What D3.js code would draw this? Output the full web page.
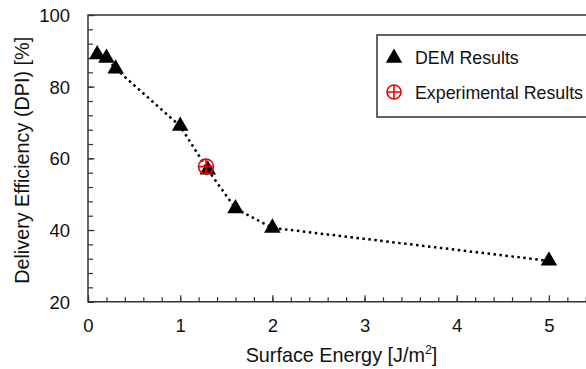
<!DOCTYPE html>
<html lang="en">
	<head>
		<meta charset="utf-8">
		<title>Delivery Efficiency vs Surface Energy</title>
		<script src="https://cdnjs.cloudflare.com/ajax/libs/d3/7.1.1/d3.min.js"></script>
<style>
	body { margin: 0; background: #fff; }
	svg { display: block; font-family: "Liberation Sans", Arial, sans-serif; }
</style>
</head>

<body>
	<div id="chart"></div>

<script>

// DEM simulation results
const demEnergy = [0.1, 0.2, 0.3, 1.0, 1.3, 1.6, 2.0, 5.0];
const demEfficiency = [89.0, 88.0, 85.0, 69.0, 56.8, 46.0, 40.6, 31.4];

// experimental measurement
const expEnergy = [1.28];
const expEfficiency = [57.7];

const xTickValues = [0, 1, 2, 3, 4, 5];
const yTickValues = [20, 40, 60, 80, 100];

const legendLabels = ["DEM Results", "Experimental Results"];

// define svg
const width = 586;
const height = 369;
const marginLeft = 88;
const marginTop = 15;
const plotRight = 595;
const plotBottom = 301.7;

const svg = d3.select("#chart")
		.append("svg")
		.attr("width", width)
		.attr("height", height);

const x = d3.scaleLinear()
		.domain([0, 5.5])
		.range([marginLeft, plotRight]);

const y = d3.scaleLinear()
		.domain([20, 100])
		.range([plotBottom, marginTop]);

const axisColor = "#333";

// minor ticks (inside)
svg.append("g")
		.attr("transform", `translate(0,${plotBottom})`)
		.call(d3.axisTop(x).tickValues(d3.range(0, 5.51, 0.2)).tickSize(4.5).tickFormat(""))
		.call(g => g.select(".domain").remove())
		.selectAll("line").attr("stroke", axisColor).attr("stroke-width", 1.2);

svg.append("g")
		.attr("transform", `translate(${marginLeft},0)`)
		.call(d3.axisRight(y).tickValues(d3.range(20, 100.1, 4)).tickSize(5).tickFormat(""))
		.call(g => g.select(".domain").remove())
		.selectAll("line").attr("stroke", axisColor).attr("stroke-width", 1.2);

// x-axis with major ticks
const xAxis = d3.axisTop(x)
		.tickValues(xTickValues)
		.tickSize(6.5)
		.tickFormat(d3.format("d"));

svg.append("g")
		.attr("class", "x-axis")
		.attr("transform", `translate(0,${plotBottom})`)
		.call(xAxis)
		.call(g => g.select(".domain").remove())
		.call(g => g.selectAll("line").attr("stroke", axisColor).attr("stroke-width", 1.2))
		.call(g => g.selectAll("text")
				.attr("y", 30.5)
				.attr("dy", 0)
				.attr("fill", "#111")
				.attr("font-size", 18.5));

const yAxis = d3.axisRight(y)
		.tickValues(yTickValues)
		.tickSize(6.5)
		.tickFormat(d3.format("d"));

svg.append("g")
		.attr("class", "y-axis")
		.attr("transform", `translate(${marginLeft},0)`)
		.call(yAxis)
		.call(g => g.select(".domain").remove())
		.call(g => g.selectAll("line").attr("stroke", axisColor).attr("stroke-width", 1.2))
		.call(g => g.selectAll("text")
				.attr("x", -18)
				.attr("dy", "0.35em")
				.attr("text-anchor", "end")
				.attr("fill", "#111")
				.attr("font-size", 18.5));

// frame: left, bottom, top
svg.append("path")
		.attr("d", `M${plotRight},${marginTop}H${marginLeft}V${plotBottom}H${plotRight}`)
		.attr("fill", "none")
		.attr("stroke", axisColor)
		.attr("stroke-width", 1.5);

// dotted trend line through DEM points
const demData = demEnergy.map((e, i) => ({x: e, y: demEfficiency[i]}));

svg.append("path")
		.datum(demData)
		.attr("fill", "none")
		.attr("stroke", "#000")
		.attr("stroke-width", 2.5)
		.attr("stroke-dasharray", "2.5,3.5")
		.attr("d", d3.line().x(d => x(d.x)).y(d => y(d.y)));

const triangle = d3.symbol().type(d3.symbolTriangle).size(118);

svg.append("g")
		.selectAll("path")
		.data(demData)
		.enter()
		.append("path")
				.attr("d", triangle)
				.attr("transform", d => `translate(${x(d.x)},${y(d.y)})`)
				.attr("fill", "#000");

// crosshair circle marker
function crossCircle(g, cx, cy, r) {
	g.append("circle")
			.attr("cx", cx).attr("cy", cy).attr("r", r)
			.attr("fill", "none").attr("stroke", "#e00").attr("stroke-width", 1.6);
	g.append("path")
			.attr("d", `M${cx - r},${cy}H${cx + r}M${cx},${cy - r}V${cy + r}`)
			.attr("stroke", "#e00").attr("stroke-width", 1.6);
}

expEnergy.forEach((e, i) => crossCircle(svg.append("g"), x(e), y(expEfficiency[i]), 7.5));

// legend
const legend = svg.append("g").attr("class", "legend");

legend.append("rect")
		.attr("x", 377)
		.attr("y", 35)
		.attr("width", 215)
		.attr("height", 82)
		.attr("fill", "#fff")
		.attr("stroke", axisColor)
		.attr("stroke-width", 1.5);

legend.append("path")
		.attr("d", triangle)
		.attr("transform", "translate(394,58)")
		.attr("fill", "#000");

crossCircle(legend, 394, 92, 7);

legend.selectAll("text")
		.data(legendLabels)
		.enter()
		.append("text")
				.attr("x", 415)
				.attr("y", (d, i) => 63.5 + i * 35)
				.attr("font-size", 17.8)
				.attr("fill", "#111")
				.text(d => d);

// axis titles
const xTitle = svg.append("text")
		.attr("x", (marginLeft + plotRight) / 2)
		.attr("y", 362)
		.attr("text-anchor", "middle")
		.attr("font-size", 19.8)
		.attr("fill", "#111");
xTitle.append("tspan").text("Surface Energy [J/m");
xTitle.append("tspan").attr("font-size", 12.5).attr("dy", -8).text("2");
xTitle.append("tspan").attr("dy", 8).text("]");

svg.append("text")
		.attr("transform", `translate(29,${(marginTop + plotBottom) / 2 + 2}) rotate(-90)`)
		.attr("text-anchor", "middle")
		.attr("font-size", 19.8)
		.attr("fill", "#111")
		.text("Delivery Efficiency (DPI) [%]");

</script>

</body>
</html>
